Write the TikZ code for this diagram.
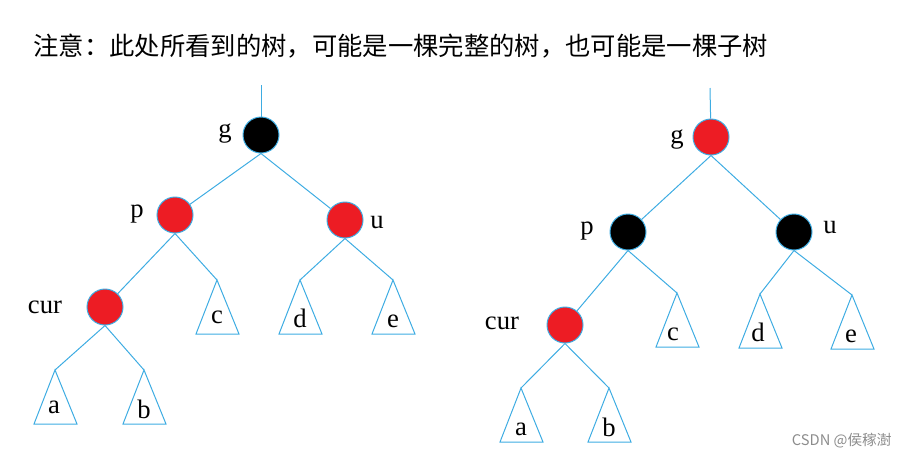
\documentclass[tikz,border=0pt]{standalone}
\usepackage{fontspec}
\setmainfont{Liberation Serif}
\newfontfamily\cjk{Noto Sans CJK SC}
\definecolor{treeblue}{RGB}{62,172,226}
\definecolor{nodered}{RGB}{237,28,36}

\tikzset{every picture/.style={line width=0.75pt}}
\tikzset{
  edge/.style={draw=treeblue},
  rbnode/.style={circle,draw=treeblue,minimum size=27pt,inner sep=0pt},
  rednode/.style={rbnode,fill=nodered},
  blacknode/.style={rbnode,fill=black},
  lbl/.style={anchor=base,inner sep=0.75pt,font=\fontsize{20}{24}\selectfont},
  subtree/.style={draw=treeblue}
}

\begin{document}
\begin{tikzpicture}[x=0.75pt,y=0.75pt,yscale=-1,xscale=1]
		\useasboundingbox (0,0) rectangle (907,458);
		
		%Title
		\draw (33,55) node [anchor=base west,inner sep=0pt,font=\cjk\fontsize{19}{23}\selectfont] (title) {注意：此处所看到的树，可能是一棵完整的树，也可能是一棵子树};
		
		%Left tree: nodes
		\coordinate (Ltop) at (261,85);
		\node [blacknode] (Lg) at (261,135) {};
		\node [rednode] (Lp) at (175,215) {};
		\node [rednode] (Lu) at (345,220) {};
		\node [rednode] (Lcur) at (105,307) {};
		\coordinate (Lc) at (217,280);
		\coordinate (Ld) at (300,280);
		\coordinate (Le) at (393,280);
		\coordinate (La) at (55,370);
		\coordinate (Lb) at (144,370);
		
		%Left tree: edges
		\draw [edge] (Ltop) -- (Lg);
		\draw [edge] (Lg.south) -- (Lp);
		\draw [edge] (Lg.south) -- (Lu);
		\draw [edge] (Lp.south) -- (Lcur);
		\draw [edge] (Lp.south) -- (Lc);
		\draw [edge] (Lu.south) -- (Ld);
		\draw [edge] (Lu.south) -- (Le);
		\draw [edge] (Lcur.south) -- (La);
		\draw [edge] (Lcur.south) -- (Lb);
		
		%Left tree: subtrees
		\draw [subtree] (Lc) -- ++(-21,54) -- ++(43,0) -- cycle;
		\draw [subtree] (Ld) -- ++(-21,54) -- ++(43,0) -- cycle;
		\draw [subtree] (Le) -- ++(-21,54) -- ++(43,0) -- cycle;
		\draw [subtree] (La) -- ++(-21,54) -- ++(43,0) -- cycle;
		\draw [subtree] (Lb) -- ++(-21,54) -- ++(43,0) -- cycle;
		
		%Left tree: labels
		\draw (225,137) node [lbl] (Lglbl) {g};
		\draw (137,217) node [lbl] (Lplbl) {p};
		\draw (377,228) node [lbl] (Lulbl) {u};
		\draw (45,313) node [lbl] (Lcurlbl) {cur};
		\draw (217,323) node [lbl] (Lclbl) {c};
		\draw (300,327) node [lbl] (Ldlbl) {d};
		\draw (393,327) node [lbl] (Lelbl) {e};
		\draw (54,413) node [lbl] (Lalbl) {a};
		\draw (144,418) node [lbl] (Lblbl) {b};
		
		%Right tree: nodes
		\coordinate (Rtop) at (710,88);
		\node [rednode] (Rg) at (711,137) {};
		\node [blacknode] (Rp) at (628,232) {};
		\node [blacknode] (Ru) at (794,232) {};
		\node [rednode] (Rcur) at (565,325) {};
		\coordinate (Rc) at (677,293);
		\coordinate (Rd) at (760,294);
		\coordinate (Re) at (852,295);
		\coordinate (Ra) at (521,388);
		\coordinate (Rb) at (609,388);
		
		%Right tree: edges
		\draw [edge] (Rtop) -- (Rg);
		\draw [edge] (Rg.south) -- (Rp);
		\draw [edge] (Rg.south) -- (Ru);
		\draw [edge] (Rp.south) -- (Rcur);
		\draw [edge] (Rp.south) -- (Rc);
		\draw [edge] (Ru.south) -- (Rd);
		\draw [edge] (Ru.south) -- (Re);
		\draw [edge] (Rcur.south) -- (Ra);
		\draw [edge] (Rcur.south) -- (Rb);
		
		%Right tree: subtrees
		\draw [subtree] (Rc) -- ++(-21,54) -- ++(43,0) -- cycle;
		\draw [subtree] (Rd) -- ++(-21,54) -- ++(43,0) -- cycle;
		\draw [subtree] (Re) -- ++(-21,54) -- ++(43,0) -- cycle;
		\draw [subtree] (Ra) -- ++(-21,54) -- ++(43,0) -- cycle;
		\draw [subtree] (Rb) -- ++(-21,54) -- ++(43,0) -- cycle;
		
		%Right tree: labels
		\draw (677,143) node [lbl] (Rglbl) {g};
		\draw (587,234) node [lbl] (Rplbl) {p};
		\draw (830,233) node [lbl] (Rulbl) {u};
		\draw (502,329) node [lbl] (Rcurlbl) {cur};
		\draw (673,340) node [lbl] (Rclbl) {c};
		\draw (758,341) node [lbl] (Rdlbl) {d};
		\draw (851,342) node [lbl] (Relbl) {e};
		\draw (521,435) node [lbl] (Ralbl) {a};
		\draw (609,436) node [lbl] (Rblbl) {b};
		
		%Watermark
		\draw (892,445) node [anchor=base east,inner sep=0pt,text=black!45,font=\cjk\fontsize{11}{13}\selectfont] (mark) {CSDN @侯稼澍};
		
	\end{tikzpicture}
\end{document}
